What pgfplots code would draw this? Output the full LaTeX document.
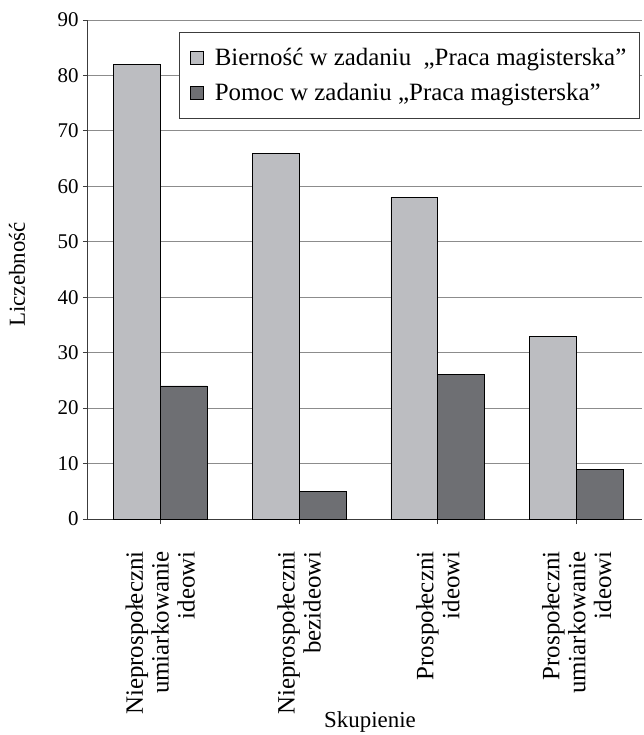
\documentclass[border=0pt]{standalone}
\usepackage{pgfplots}
\pgfplotsset{compat=1.18}
\usepackage{fontspec}
\setmainfont{Liberation Serif}
\definecolor{lightbar}{RGB}{188,189,193}
\definecolor{darkbar}{RGB}{110,111,115}
\definecolor{gridgray}{RGB}{140,140,140}
\definecolor{axisgray}{RGB}{60,60,60}
\begin{document}
\begin{tikzpicture}
\begin{axis}[
    scale only axis,
    width=554bp, height=499bp,
    xmin=-0.52, xmax=3.47,
    ymin=0, ymax=90,
    ytick={0,10,...,90},
    xtick={0,1,2,3},
    xticklabels={
        {Nieprospołeczni\\umiarkowanie\\ideowi},
        {Nieprospołeczni\\bezideowi},
        {Prospołeczni\\ideowi},
        {Prospołeczni\\umiarkowanie\\ideowi}},
    x tick label style={rotate=90, anchor=east, align=right,
        font=\fontsize{25}{26}\selectfont, xshift=-24bp},
    y tick label style={font=\fontsize{21}{24}\selectfont, xshift=-1bp},
    /pgf/number format/assume math mode=true,
    axis x line*=bottom, axis y line*=left,
    axis line style={axisgray, line width=1bp},
    tick style={axisgray, line width=1bp},
    tick align=outside, major tick length=5bp,
    ymajorgrids, grid style={gridgray, line width=1bp},
    xlabel={Skupienie},
    ylabel={Liczebność},
    label style={font=\fontsize{23}{26}\selectfont},
    xlabel style={at={(axis description cs:0.5,0)}, anchor=base, yshift=-208bp, xshift=5bp},
    ylabel style={at={(axis description cs:0,0.49)}, anchor=center, yshift=71bp},
    legend style={at={(0.996,0.976)}, anchor=north east,
        draw=axisgray, line width=1bp, fill=white,
        font=\fontsize{25}{30}\selectfont,
        inner xsep=11bp, inner ysep=14bp, row sep=12bp, column sep=9bp},
    legend cell align=left,
    legend image code/.code={\draw[#1, line width=0.8bp] (0bp,-6.5bp) rectangle (13bp,6.5bp);},
]
\addplot[ybar, bar width=0.338, bar shift=-0.169, fill=lightbar, draw=black, line width=0.8bp]
    coordinates {(0,82) (1,66) (2,58) (3,33)};
\addlegendentry{Bierność w zadaniu \ „Praca magisterska”}
\addplot[ybar, bar width=0.338, bar shift=0.169, fill=darkbar, draw=black, line width=0.8bp]
    coordinates {(0,24) (1,5) (2,26) (3,9)};
\addlegendentry{Pomoc w zadaniu „Praca magisterska”}
\end{axis}
\pgfresetboundingbox
\path (current axis.south west) ++(-88bp,-216bp) rectangle ++(644bp,735bp);
\end{tikzpicture}
\end{document}
